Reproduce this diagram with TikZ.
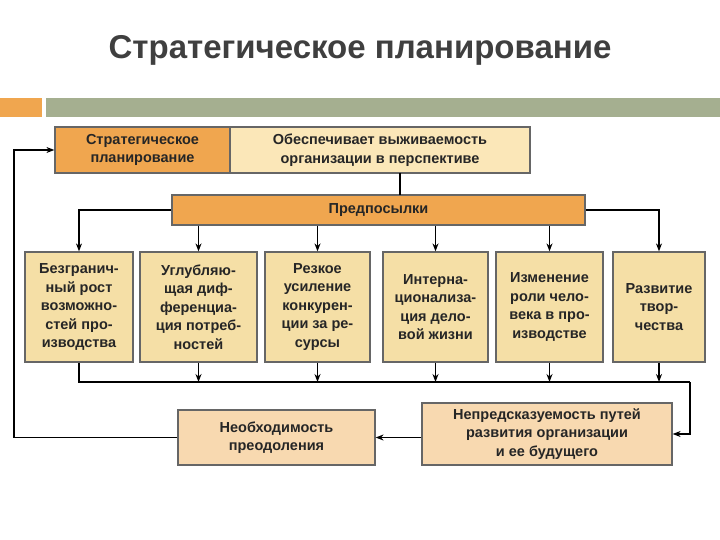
\documentclass[tikz,border=0pt]{standalone}
\usepackage{fontspec}
\setmainfont{Liberation Sans}
\usetikzlibrary{arrows.meta}
\definecolor{orng}{HTML}{F0A64F}
\definecolor{light}{HTML}{FBE7B8}
\definecolor{tan}{HTML}{F5DFA6}
\definecolor{peach}{HTML}{F8D9B0}
\definecolor{grn}{HTML}{A5AF90}
\definecolor{ttl}{HTML}{3F3F3F}
\begin{document}
\begin{tikzpicture}[x=1pt,y=-1pt,
  box/.style={draw=gray!80!black,line width=1.2pt,inner sep=0pt,align=center,font=\bfseries\fontsize{14.5}{18.5}\selectfont,text=black!85},
  ln/.style={line width=1.4pt,black},
  arr/.style={ln,-{Stealth[length=8pt,width=6pt]}}]
\useasboundingbox (0,0) rectangle (720,540);
\fill[white] (0,0) rectangle (720,540);
\node[font=\bfseries\fontsize{33}{36}\selectfont,text=ttl] (title) at (360,50) {Стратегическое планирование};
\fill[orng] (0,98) rectangle (42,117);
\fill[grn] (46,98) rectangle (720,117);
\node[box,fill=orng,minimum width=175,minimum height=46] (sp) at (142.5,150) {Стратегическое\\планирование};
\node[box,fill=light,minimum width=300,minimum height=46] (ob) at (380,150) {Обеспечивает выживаемость\\организации в перспективе};
\node[box,fill=orng,minimum width=413,minimum height=30] (pr) at (378.5,210) {Предпосылки};
\draw[ln] (400,173) -- (400,195);
\node[box,fill=tan,minimum width=108,minimum height=110] (b1) at (79,307) {Безгранич-\\ный рост\\возможно-\\стей про-\\изводства};
\node[box,fill=tan,minimum width=117,minimum height=110] (b2) at (198.5,307) {Углубляю-\\щая диф-\\ференциа-\\ция потреб-\\ностей};
\node[box,fill=tan,minimum width=105,minimum height=110] (b3) at (317.5,307) {Резкое\\усиление\\конкурен-\\ции за ре-\\сурсы};
\node[box,fill=tan,minimum width=105,minimum height=110] (b4) at (435.5,307) {Интерна-\\ционализа-\\ция дело-\\вой жизни};
\node[box,fill=tan,minimum width=107,minimum height=110] (b5) at (549.5,307) {Изменение\\роли чело-\\века в про-\\изводстве};
\node[box,fill=tan,minimum width=92,minimum height=110] (b6) at (659,307) {Развитие\\твор-\\чества};
\node[box,fill=peach,minimum width=197,minimum height=55] (nb) at (276.5,437.5) {Необходимость\\преодоления};
\node[box,fill=peach,minimum width=250,minimum height=62] (np) at (547,434) {Непредсказуемость путей\\развития организации\\и ее будущего};
\draw[arr] (pr.west) -| (b1.north);
\draw[arr] (pr.east) -| (b6.north);
\foreach \b in {b2,b3,b4,b5}{\draw[arr] (pr.south -| \b.north) -- (\b.north);}
\coordinate (bl) at (79,382);
\coordinate (br) at (690,382);
\draw[ln] (b1.south) -- (bl) -- (br);
\draw[arr] (br) |- (np.east);
\foreach \b in {b2,b3,b4,b5,b6}{\draw[arr] (\b.south) -- (\b.south |- bl);}
\draw[arr] (np.west |- nb.east) -- (nb.east);
\coordinate (lc) at (14,437.5);
\draw[arr] (nb.west) -- (lc) |- (sp.west);
\end{tikzpicture}
\end{document}
